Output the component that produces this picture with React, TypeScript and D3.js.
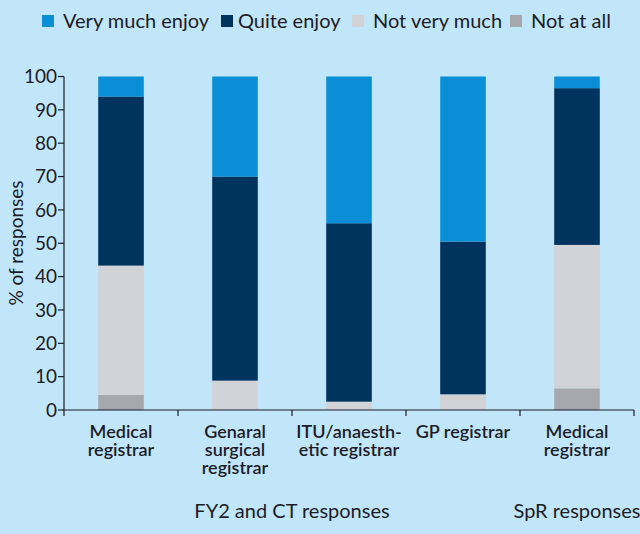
import React from 'react';
import * as d3 from 'd3';

const categories = [
  ['Medical', 'registrar'],
  ['Genaral', 'surgical', 'registrar'],
  ['ITU/anaesth-', 'etic registrar'],
  ['GP registrar'],
  ['Medical', 'registrar'],
];
const seriesNames = ['Not at all', 'Not very much', 'Quite enjoy', 'Very much enjoy'];
const notAtAll = [4.5, 0, 0, 0, 6.5];
const notVeryMuch = [38.8, 8.8, 2.5, 4.7, 43];
const quiteEnjoy = [50.7, 61.2, 53.5, 45.8, 47];
const veryMuchEnjoy = [6, 30, 44, 49.5, 3.5];
const yTicks = [0, 10, 20, 30, 40, 50, 60, 70, 80, 90, 100];
const legendOrder = ['Very much enjoy', 'Quite enjoy', 'Not very much', 'Not at all'];
const groupLabels = [
  { text: 'FY2 and CT responses', from: 0, to: 3 },
  { text: 'SpR responses', from: 4, to: 4 },
];

const colors: Record<string, string> = {
  'Very much enjoy': '#0a8fd6',
  'Quite enjoy': '#00345f',
  'Not very much': '#d2d3d6',
  'Not at all': '#a7a8ab',
};

const W = 640;
const H = 534;
const font = 'Lato, sans-serif';
const ink = '#1c1c28';

export default function App() {
  const rows = categories.map((_, i) => ({
    idx: String(i),
    'Not at all': notAtAll[i],
    'Not very much': notVeryMuch[i],
    'Quite enjoy': quiteEnjoy[i],
    'Very much enjoy': veryMuchEnjoy[i],
  }));
  const stacked = d3.stack<any>().keys(seriesNames)(rows);

  const x = d3
    .scaleBand<string>()
    .domain(categories.map((_, i) => String(i)))
    .range([64, 634])
    .paddingInner(0.6)
    .paddingOuter(0.3);
  const y = d3.scaleLinear().domain([0, 100]).range([410, 76.5]);
  const step = x.step();
  const x0 = 64;

  // legend swatch positions
  const legendX = [42, 221, 352, 510];

  return (
    <svg width={W} height={H} style={{ position: 'absolute', left: 0, top: 0, background: '#c1e6f9' }}>
      <rect width={W} height={H} fill="#c1e6f9" />
      {/* legend */}
      {legendOrder.map((k, i) => (
        <g key={k} transform={`translate(${legendX[i]},15)`}>
          <rect width={12} height={12} fill={colors[k]} />
          <text x={i === 1 ? 17 : 21} y={12.5} fontFamily={font} fontSize={20} fill={ink}>
            {k}
          </text>
        </g>
      ))}
      {/* bars */}
      {stacked.map((s) => (
        <g key={s.key} fill={colors[s.key]}>
          {s.map((d, i) =>
            d[1] - d[0] > 0 ? (
              <rect
                key={i}
                x={x(String(i))}
                width={x.bandwidth()}
                y={y(d[1])}
                height={y(d[0]) - y(d[1])}
              />
            ) : null
          )}
        </g>
      ))}
      {/* y axis */}
      <line x1={x0} x2={x0} y1={y(100)} y2={y(0)} stroke={ink} strokeWidth={1.2} />
      {yTicks.map((t) => (
        <g key={t} transform={`translate(0,${y(t)})`}>
          <line x1={x0 - 6} x2={x0} stroke={ink} strokeWidth={1.2} />
          <text x={x0 - 7} dy="0.36em" textAnchor="end" fontFamily={font} fontSize={19} fill={ink}>
            {t}
          </text>
        </g>
      ))}
      <text
        transform={`translate(23,243) rotate(-90)`}
        textAnchor="middle"
        fontFamily={font}
        fontSize={19}
        fill={ink}
      >
        % of responses
      </text>
      {/* x axis */}
      <line x1={x0} x2={634} y1={y(0)} y2={y(0)} stroke={ink} strokeWidth={1.2} />
      {d3.range(categories.length + 1).map((i) => (
        <line key={i} x1={x0 + i * step} x2={x0 + i * step} y1={y(0)} y2={y(0) + 6} stroke={ink} strokeWidth={1.2} />
      ))}
      {categories.map((lines, i) => (
        <text
          key={i}
          x={(x(String(i)) as number) + x.bandwidth() / 2}
          y={438}
          textAnchor="middle"
          fontFamily={font}
          fontSize={18}
          fontWeight={600}
          fill={ink}
        >
          {lines.map((l, j) => (
            <tspan key={j} x={(x(String(i)) as number) + x.bandwidth() / 2} dy={j === 0 ? 0 : 18}>
              {l}
            </tspan>
          ))}
        </text>
      ))}
      {groupLabels.map((g) => (
        <text
          key={g.text}
          x={((x(String(g.from)) as number) + (x(String(g.to)) as number) + x.bandwidth()) / 2}
          y={518}
          textAnchor="middle"
          fontFamily={font}
          fontSize={20}
          fill={ink}
        >
          {g.text}
        </text>
      ))}
    </svg>
  );
}
